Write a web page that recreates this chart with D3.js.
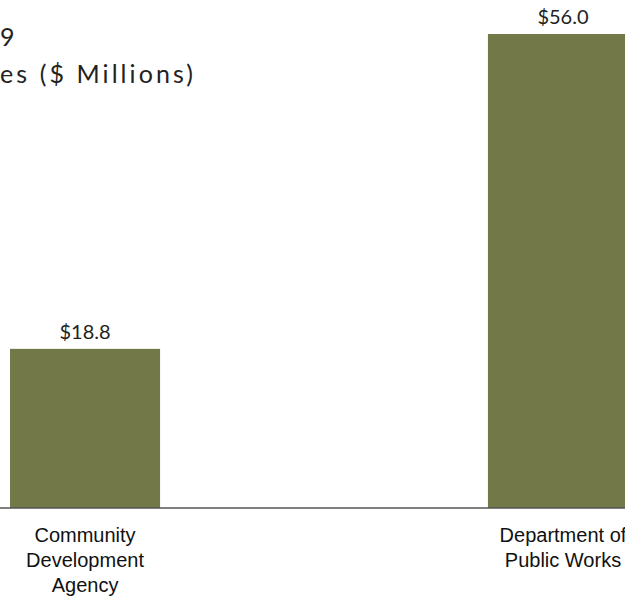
<!DOCTYPE html>
<html>
<head>
<meta charset="utf-8">
<script src="https://cdn.jsdelivr.net/npm/d3@7"></script>
<style>
  body { margin: 0; background: #fff; }
  svg { display: block; }
</style>
</head>
<body>
<svg id="chart"></svg>
<script>
// data
const categories = [["Community", "Development", "Agency"], ["Department of", "Public Works"]];
const categoryKeys = ["Community Development Agency", "Department of Public Works"];
const values = [18.8, 56.0];
// only the visible ends of the title survive in the reference crop
const titleLines = ["9", "es ($ Millions)"];

const w = 625, h = 596;
const baseY = 508;

let svg = d3.select("#chart")
    .attr("width", w)
    .attr("height", h);

//scales
let x = d3.scaleBand()
    .domain(categoryKeys)
    .range([10, 638])
    .paddingInner(0.686)
    .paddingOuter(0);

let y = d3.scaleLinear()
    .domain([0, 56])
    .range([baseY, 34]);

//title pieces
svg.append("text")
    .text(titleLines[0])
    .attr("x", 0)
    .attr("y", 46)
    .attr("font-family", "Lato, 'Open Sans', sans-serif")
    .attr("font-size", "25px")
    .attr("fill", "#222");

svg.append("text")
    .text(titleLines[1])
    .attr("x", 0)
    .attr("y", 83)
    .attr("textLength", 193)
    .attr("lengthAdjust", "spacing")
    .attr("font-family", "Lato, 'Open Sans', sans-serif")
    .attr("font-size", "25px")
    .attr("fill", "#222");

//bars
svg.selectAll("rect.bar")
    .data(values)
    .enter()
    .append("rect")
    .attr("class", "bar")
    .attr("x", (d, i) => x(categoryKeys[i]))
    .attr("y", d => y(d))
    .attr("width", x.bandwidth())
    .attr("height", d => baseY - y(d))
    .attr("fill", "#727848");

//value labels
svg.selectAll("text.val")
    .data(values)
    .enter()
    .append("text")
    .attr("class", "val")
    .text(d => "$" + d.toFixed(1))
    .attr("x", (d, i) => x(categoryKeys[i]) + x.bandwidth() / 2)
    .attr("y", d => y(d) - 10)
    .attr("text-anchor", "middle")
    .attr("font-family", "Lato, 'Open Sans', sans-serif")
    .attr("font-size", "20px")
    .attr("fill", "#222");

//axis line
let axis = svg.append("g")
    .attr("transform", `translate(0,${baseY})`)
    .call(d3.axisBottom(x).tickSize(0).tickFormat(""));
axis.select(".domain")
    .attr("d", `M0,0H${w}`)
    .attr("stroke", "#555")
    .attr("stroke-width", 1.5);

//category labels
categories.forEach((lines, i) => {
    svg.append("text")
        .attr("text-anchor", "middle")
        .attr("font-family", "'Liberation Sans', Arial, sans-serif")
        .attr("font-size", "20px")
        .attr("fill", "#111")
        .selectAll("tspan")
        .data(lines)
        .enter()
        .append("tspan")
        .text(d => d)
        .attr("x", x(categoryKeys[i]) + x.bandwidth() / 2)
        .attr("y", (d, j) => 542 + j * 25);
});
</script>
</body>
</html>
